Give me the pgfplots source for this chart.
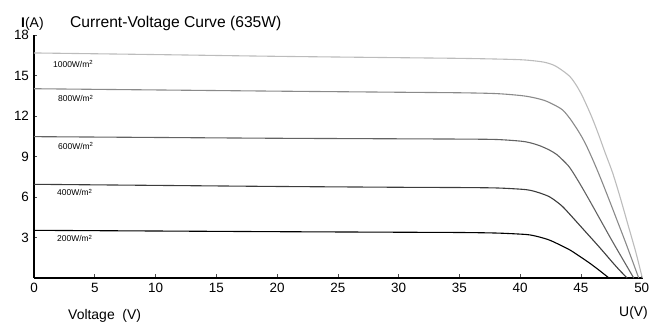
\documentclass[border=0pt]{standalone}
\usepackage{fontspec}
\setmainfont{Liberation Sans}
\usepackage{pgfplots}
\pgfplotsset{compat=1.18}
\definecolor{cA}{HTML}{BCBCBC}
\definecolor{cB}{HTML}{8A8A8A}
\definecolor{cC}{HTML}{636363}
\definecolor{cD}{HTML}{3C3C3C}
\definecolor{cE}{HTML}{000000}
\begin{document}
\begin{tikzpicture}
\begin{axis}[
  scale only axis, width=609bp, height=243bp,
  xmin=0, xmax=50.1, ymin=0, ymax=18,
  axis lines=left, axis line style={-, line width=2.6bp, black},
  xtick={0,5,...,50}, ytick={3,6,...,18},
  tick align=inside, major tick length=3.5bp,
  tick style={line width=0.6bp, black!70},
  /pgf/number format/assume math mode=true,
  ticklabel style={font=\fontsize{13.5}{15}\selectfont},
  xticklabel style={yshift=-2bp},
  yticklabel style={xshift=-1.5bp},
  clip=false,
  every axis plot/.append style={line width=1.1bp, smooth, tension=0.5},
]
\addplot[color=cA] coordinates {(0,16.67)(10,16.55)(20,16.42)(30,16.32)(35,16.27)(38,16.22)(40,16.17)(41,16.1)(42,15.98)(42.8,15.75)(43.5,15.35)(44.1,14.91)(44.6,14.3)(45.1,13.5)(45.7,12.32)(46.1,11.45)(46.5,10.5)(47.0,9.25)(47.6,7.8)(48.2,6.05)(48.85,4.0)(49.5,1.95)(50.05,0)};
\addplot[color=cB] coordinates {(0,14.02)(10,13.93)(20,13.84)(30,13.76)(35,13.72)(38,13.66)(40,13.52)(41,13.38)(42,13.15)(42.8,12.82)(43.5,12.44)(44.1,11.8)(44.7,11.0)(45.1,10.4)(45.5,9.7)(46.1,8.5)(46.7,7.2)(47.4,5.6)(48.0,4.2)(48.6,2.8)(49.2,1.35)(49.75,0)};
\addplot[color=cC] coordinates {(0,10.47)(10,10.41)(20,10.35)(30,10.31)(35,10.29)(38,10.26)(40,10.14)(40.8,10.02)(41.6,9.8)(42.4,9.48)(43.0,9.15)(43.5,8.74)(44.1,8.15)(44.9,7.0)(45.7,5.75)(46.6,4.3)(47.5,2.85)(48.4,1.45)(49.34,0)};
\addplot[color=cD] coordinates {(0,6.94)(10,6.86)(20,6.78)(30,6.72)(35,6.70)(38,6.67)(40,6.58)(40.8,6.5)(41.6,6.3)(42.4,6.02)(43.0,5.65)(43.5,5.28)(44.2,4.6)(44.9,3.9)(45.6,3.2)(46.3,2.5)(47.0,1.78)(47.6,1.15)(48.2,0.55)(48.8,0)};
\addplot[color=cE] coordinates {(0,3.53)(10,3.48)(20,3.43)(30,3.39)(35,3.37)(38,3.33)(40,3.25)(40.8,3.19)(41.6,3.03)(42.4,2.81)(43.2,2.48)(44.1,2.07)(44.9,1.6)(45.7,1.11)(46.5,0.57)(47.3,0)};
\begin{scope}[every node/.style={anchor=west, inner sep=0pt, font=\fontsize{8.5}{10}\selectfont}]
\node at (axis cs:1.56,15.85) {1000W/m\textsuperscript{2}};
\node at (axis cs:1.97,13.3) {800W/m\textsuperscript{2}};
\node at (axis cs:1.97,9.78) {600W/m\textsuperscript{2}};
\node at (axis cs:1.89,6.33) {400W/m\textsuperscript{2}};
\node at (axis cs:1.89,2.93) {200W/m\textsuperscript{2}};
\end{scope}
\node[anchor=base west, inner sep=0pt, font=\fontsize{15.7}{18}\selectfont] at (axis cs:2.96,18.59) {Current-Voltage Curve (635W)};
\node[anchor=base west, inner sep=0pt, font=\fontsize{14}{16}\selectfont] at (axis cs:-1.07,18.59) {\textbf{I}(A)};
\node[anchor=base west, inner sep=0pt, font=\fontsize{14}{16}\selectfont] at (axis cs:2.80,-3.11) {Voltage\ \ (V)};
\node[anchor=base west, inner sep=0pt, font=\fontsize{14}{16}\selectfont] at (axis cs:48.13,-2.89) {U(V)};
\coordinate (bbsw) at (axis cs:-2.797,-3.259);
\coordinate (bbne) at (axis cs:51.42,20.593);
\end{axis}
\pgfresetboundingbox
\path (bbsw) rectangle (bbne);
\end{tikzpicture}
\end{document}
